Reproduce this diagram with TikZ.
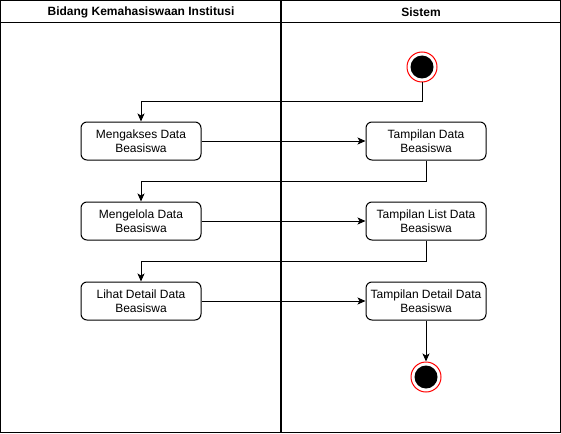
\documentclass[tikz,border=0pt]{standalone}
\usepackage{fontspec}
\setmainfont{Liberation Sans}
\usetikzlibrary{arrows.meta}
\begin{document}
\begin{tikzpicture}[x=1pt,y=-1pt,
  act/.style={draw,line width=1pt,rounded corners=6pt,minimum width=120pt,minimum height=38pt,align=center,font=\fontsize{12}{14.5}\selectfont,inner sep=1pt},
  flow/.style={line width=1pt,-{Stealth[length=8pt,width=7pt,inset=2pt]}},
  hdr/.style={font=\bfseries\fontsize{12}{14}\selectfont}]
\useasboundingbox (0,0) rectangle (561,433);
\fill[white] (0,0) rectangle (561,433);
\draw[line width=1pt] (0.5,0.5) rectangle (560.5,432.5);
\draw[line width=1pt] (0.5,23) -- (560.5,23);
\draw[line width=1.5pt] (281,0.5) -- (281,432.5);
\node[hdr] (h1) at (141,12) {Bidang Kemahasiswaan Institusi};
\node[hdr] (h2) at (421,12) {Sistem};
% start
\node[circle,draw=red,line width=1pt,minimum size=30pt,inner sep=0pt] (s) at (422,67) {};
\node[circle,fill=black,minimum size=23pt,inner sep=0pt] (si) at (422,67) {};
% end
\node[circle,draw=red,line width=1pt,minimum size=30pt,inner sep=0pt] (e) at (426,377) {};
\node[circle,fill=black,minimum size=23pt,inner sep=0pt] (ei) at (426,377) {};
% activities
\node[act] (a1) at (141,141) {Mengakses Data\\Beasiswa};
\node[act] (a2) at (141,221) {Mengelola Data\\Beasiswa};
\node[act] (a3) at (141,301) {Lihat Detail Data\\Beasiswa};
\node[act] (b1) at (426,141) {Tampilan Data\\Beasiswa};
\node[act] (b2) at (426,221) {Tampilan List Data\\Beasiswa};
\node[act] (b3) at (426,301) {Tampilan Detail Data\\Beasiswa};
% connectors
\draw[flow] (s.south) |- (141,101) -- (a1.north);
\draw[flow] (a1.east) -- (b1.west);
\draw[flow] (b1.south) |- (141,181) -- (a2.north);
\draw[flow] (a2.east) -- (b2.west);
\draw[flow] (b2.south) |- (141,261) -- (a3.north);
\draw[flow] (a3.east) -- (b3.west);
\draw[flow] (b3.south) -- (e.north);
\end{tikzpicture}
\end{document}
